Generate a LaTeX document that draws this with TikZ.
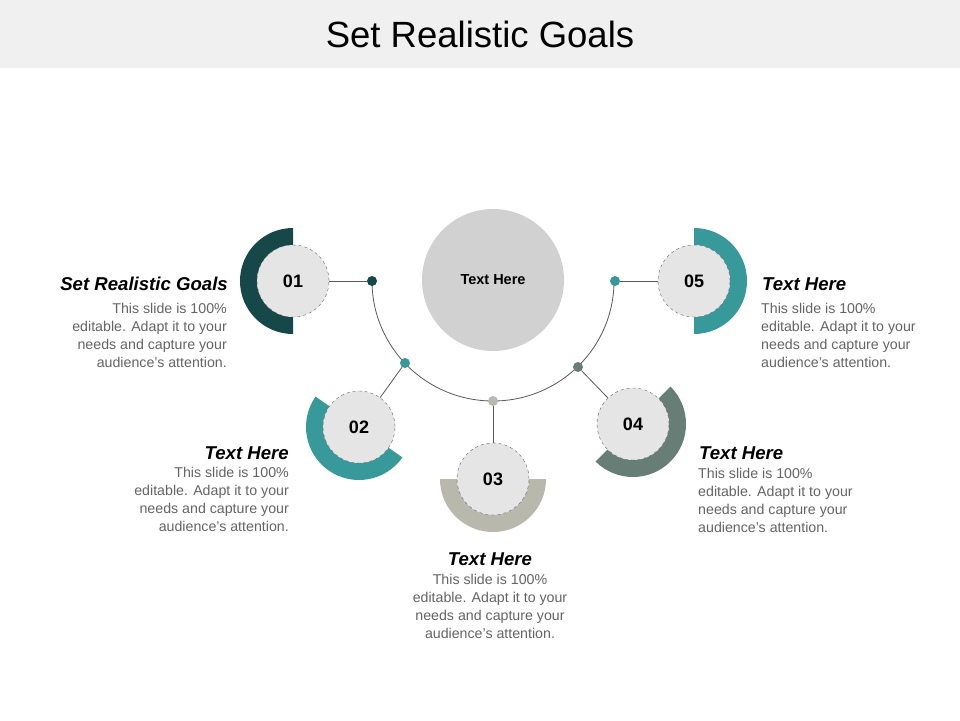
\documentclass[tikz,border=0pt]{standalone}
\usepackage{fontspec}
\setmainfont{Liberation Sans}
\newcommand{\apos}{{\char"0027}}
\newcommand{\bodytext}{This slide is 100\%\\editable. Adapt it to your\\needs and capture your\\audience\apos s attention.}
\begin{document}
\begin{tikzpicture}[x=1pt,y=-1pt,
  inner/.style={circle,draw=gray!80!black,dashed,fill=innerc,minimum size=72pt,inner sep=0pt,font=\fontsize{18}{20}\selectfont\bfseries},
  dotn/.style={circle,inner sep=0pt,minimum size=10pt},
  conn/.style={draw=gray!70!black,line width=0.8pt},
  head/.style={font=\fontsize{18.6}{20}\selectfont\bfseries\itshape,inner sep=0pt},
  body/.style={font=\fontsize{14.2}{18}\selectfont,text=bodyc,inner sep=0pt}]
\definecolor{innerc}{RGB}{230,229,230}
\definecolor{bodyc}{RGB}{100,100,100}
\definecolor{cA}{RGB}{22,72,74}
\definecolor{cB}{RGB}{56,153,155}
\definecolor{cC}{RGB}{184,184,172}
\definecolor{cD}{RGB}{103,126,119}
\definecolor{cE}{RGB}{56,153,155}
\useasboundingbox (0,0) rectangle (960,720);
\fill[white] (0,0) rectangle (960,720);
\fill[black!6] (0,0) rectangle (960,68);
\node[font=\fontsize{36.5}{40}\selectfont] (title) at (480,34) {Set Realistic Goals};
\draw[conn] (372,281) arc[start angle=180,end angle=360,x radius=121,y radius=-120];
\node[circle,fill=black!18,minimum size=142pt,inner sep=0pt,font=\fontsize{14.5}{16}\selectfont\bfseries] (c) at (493,280) {Text Here};
\fill[cA] (293,228) arc[start angle=-90,end angle=-270,radius=53] -- (293,317) arc[start angle=-270,end angle=-90,radius=36] -- cycle;
\begin{scope}[shift={(359,427)}]
\fill[cB] (-145:53) arc[start angle=-145,end angle=-325,radius=53] -- (-325:36) arc[start angle=-325,end angle=-145,radius=36] -- cycle;
\end{scope}
\begin{scope}[shift={(493,479)}]
\fill[cC] (180:53) arc[start angle=180,end angle=0,radius=53] -- (0:36) arc[start angle=0,end angle=180,radius=36] -- cycle;
\end{scope}
\begin{scope}[shift={(633,424)}]
\fill[cD] (135:53) arc[start angle=135,end angle=-45,radius=53] -- (-45:36) arc[start angle=-45,end angle=135,radius=36] -- cycle;
\end{scope}
\begin{scope}[shift={(694,281)}]
\fill[cE] (90:53) arc[start angle=90,end angle=-90,radius=53] -- (-90:36) arc[start angle=-90,end angle=90,radius=36] -- cycle;
\end{scope}
\node[dotn,fill=cA] (d1) at (372,281) {};
\node[dotn,fill=cB] (d2) at (405,363) {};
\node[dotn,fill=cC] (d3) at (493,401) {};
\node[dotn,fill=cD] (d4) at (578,367) {};
\node[dotn,fill=cE] (d5) at (615,281) {};
\node[inner] (n1) at (293,281) {01};
\node[inner] (n2) at (359,427) {02};
\node[inner] (n3) at (493,479) {03};
\node[inner] (n4) at (633,424) {04};
\node[inner] (n5) at (694,281) {05};
\draw[conn] (n1) -- (d1);
\draw[conn] (n2) -- (d2);
\draw[conn] (n3) -- (d3);
\draw[conn] (n4) -- (d4);
\draw[conn] (n5) -- (d5);
\node[head,anchor=east] (h1) at (228,284) {Set Realistic Goals};
\node[body,anchor=north east,align=right] (b1) at (227,303) {\bodytext};
\node[head,anchor=east] (h2) at (289,453) {Text Here};
\node[body,anchor=north east,align=right] (b2) at (289,467) {\bodytext};
\node[head] (h3) at (490,559) {Text Here};
\node[body,anchor=north,align=center] (b3) at (490,574) {\bodytext};
\node[head,anchor=west] (h4) at (699,453) {Text Here};
\node[body,anchor=north west,align=left] (b4) at (698,468) {\bodytext};
\node[head,anchor=west] (h5) at (762,284) {Text Here};
\node[body,anchor=north west,align=left] (b5) at (761,303) {\bodytext};
\end{tikzpicture}
\end{document}
